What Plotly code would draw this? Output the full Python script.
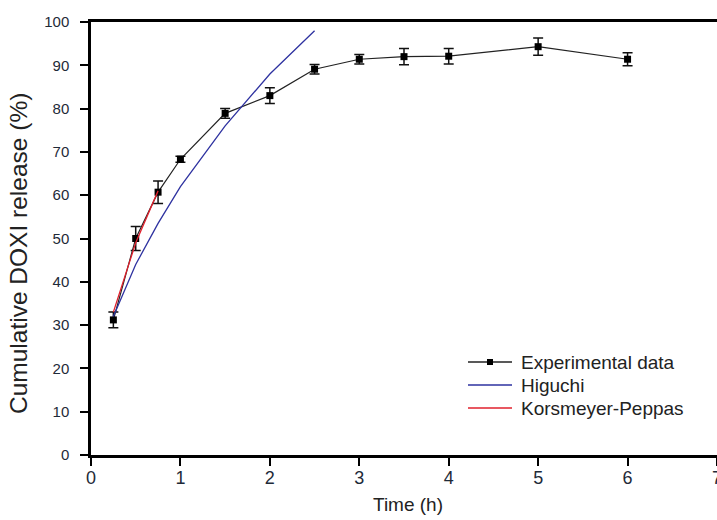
import plotly.graph_objects as go

# Data
time_h = [0.25, 0.5, 0.75, 1, 1.5, 2, 2.5, 3, 3.5, 4, 5, 6]
experimental = [31.2, 50.0, 60.7, 68.3, 78.9, 83.0, 89.1, 91.4, 92.0, 92.1, 94.3, 91.4]
experimental_err = [1.8, 2.8, 2.6, 0.7, 1.1, 1.8, 1.1, 1.1, 1.9, 1.8, 2.0, 1.5]

higuchi_t = [0.25, 0.5, 0.75, 1, 1.5, 2, 2.5]
higuchi = [32.0, 44.0, 53.5, 62.0, 76.0, 88.0, 98.0]

kp_t = [0.25, 0.5, 0.75]
kp = [33.0, 49.0, 61.0]

x_ticks = [0, 1, 2, 3, 4, 5, 6, 7]
y_ticks = [0, 10, 20, 30, 40, 50, 60, 70, 80, 90, 100]

series_names = ["Experimental data", "Higuchi", "Korsmeyer-Peppas"]
series_colors = ["#222222", "#2e32a0", "#e0202c"]

FONT = "Arial, Liberation Sans, sans-serif"
TICK_COLOR = "#1e2a38"

W, H = 717, 520
ML, MR, MT, MB = 91, 0, 22, 65
PW, PH = W - ML - MR, H - MT - MB


def px_x(X):
    return (X - ML) / PW


def px_y(Y):
    return (H - MB - Y) / PH


fig = go.Figure()
fig.add_trace(go.Scatter(
    x=time_h, y=experimental, mode="lines+markers", name=series_names[0],
    line=dict(color=series_colors[0], width=1.2),
    marker=dict(symbol="square", size=7, color="#000000"),
    error_y=dict(type="data", array=experimental_err, visible=True,
                 color="#111111", thickness=1.5, width=5),
))
fig.add_trace(go.Scatter(
    x=higuchi_t, y=higuchi, mode="lines", name=series_names[1],
    line=dict(color=series_colors[1], width=1.3),
))
fig.add_trace(go.Scatter(
    x=kp_t, y=kp, mode="lines", name=series_names[2],
    line=dict(color=series_colors[2], width=1.3),
))

# Legend drawn as layout decoration
shapes = []
annotations = []
legend_rows = [362, 385, 408]
for name, color, row in zip(series_names, series_colors, legend_rows):
    shapes.append(dict(type="line", xref="paper", yref="paper",
                       x0=px_x(468), x1=px_x(512), y0=px_y(row), y1=px_y(row),
                       line=dict(color=color, width=1.4)))
    annotations.append(dict(text=name, xref="paper", yref="paper",
                            x=px_x(519), y=px_y(row), xanchor="left", yanchor="middle",
                            showarrow=False,
                            font=dict(size=19, family=FONT, color="#222222")))
shapes.append(dict(type="rect", xref="paper", yref="paper",
                   x0=px_x(487), x1=px_x(493), y0=px_y(legend_rows[0] + 3), y1=px_y(legend_rows[0] - 3),
                   fillcolor="black", line=dict(width=0)))

annotations += [
    dict(text="Cumulative DOXI release (%)", xref="paper", yref="paper",
         x=px_x(18), y=px_y(254), textangle=-90, showarrow=False,
         font=dict(size=24.5, family=FONT, color="#222222"),
         xanchor="center", yanchor="middle"),
    dict(text="Time (h)", xref="paper", yref="paper",
         x=px_x(408), y=px_y(505), showarrow=False,
         font=dict(size=19, family=FONT, color="#222222"),
         xanchor="center", yanchor="middle"),
]

fig.update_layout(
    width=W, height=H,
    margin=dict(l=ML, r=MR, t=MT, b=MB, autoexpand=False),
    paper_bgcolor="white", plot_bgcolor="white",
    font=dict(family=FONT, color="#222222"),
    showlegend=False,
    xaxis=dict(
        range=[0, 7], tickmode="array", tickvals=x_ticks, ticktext=[str(v) for v in x_ticks],
        showgrid=False, zeroline=False, showline=True, linecolor="black", linewidth=2.5,
        mirror=True, ticks="outside", ticklen=8, tickwidth=2, tickcolor="black",
        tickfont=dict(size=18, color=TICK_COLOR, family=FONT), ticklabelstandoff=-3,
        ticklabeloverflow="allow", automargin=False,
    ),
    yaxis=dict(
        range=[0, 100], tickmode="array", tickvals=y_ticks, ticktext=[str(v) for v in y_ticks],
        showgrid=False, zeroline=False, showline=True, linecolor="black", linewidth=2.5,
        ticks="outside", ticklen=8, tickwidth=2, tickcolor="black",
        tickfont=dict(size=15, color=TICK_COLOR, family=FONT), ticklabelstandoff=8,
        automargin=False,
    ),
    shapes=shapes,
    annotations=annotations,
)

fig.write_html(
    "out.html",
    config={"displayModeBar": False},
    post_script="document.body.style.margin='0';document.body.style.overflow='hidden';",
)
